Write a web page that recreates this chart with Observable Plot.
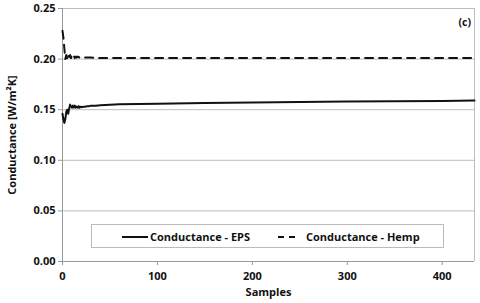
<!DOCTYPE html>
<html><head><meta charset="utf-8">
<script src="https://cdn.jsdelivr.net/npm/d3@7"></script>
<script src="https://cdn.jsdelivr.net/npm/@observablehq/plot@0.6"></script>
<style>
body{margin:0;background:#fff;}
#wrap{position:relative;width:480px;height:303px;font-family:"Open Sans",sans-serif;font-weight:bold;}
#legend{position:absolute;left:91px;top:224px;width:353px;height:24px;border:1px solid #bbb;background:#fff;box-sizing:border-box;font-size:11px;color:#111;}
#legend .item{position:absolute;top:4px;display:flex;align-items:center;}
#tag{position:absolute;right:9px;top:15px;font-size:10.5px;color:#111;}
</style></head>
<body><div id="wrap"><div id="chart"></div>
<div id="legend"></div>
<div id="tag">(c)</div></div>
<script>
const epsX = [0,1,2,3,4,5,6,7,8,9,10,11,12,13,14,15,16,17,18,19,20,22,24,26,28,30,35,40,50,60,80,100,150,200,250,300,350,400,434];
const epsY = [0.146,0.140,0.137,0.141,0.148,0.150,0.146,0.151,0.155,0.153,0.152,0.154,0.152,0.154,0.152,0.153,0.152,0.1535,0.152,0.153,0.1525,0.153,0.153,0.1535,0.1535,0.154,0.154,0.1545,0.155,0.1553,0.1557,0.156,0.1565,0.157,0.1577,0.158,0.1583,0.1587,0.159];
const hempX = [0,1,2,3,4,5,6,7,8,9,10,11,12,13,14,15,16,18,20,22,25,30,40,60,100,200,300,400,434];
const hempY = [0.228,0.221,0.210,0.200,0.204,0.201,0.205,0.202,0.204,0.201,0.204,0.202,0.203,0.201,0.2025,0.2015,0.2025,0.2015,0.202,0.2015,0.2015,0.2015,0.201,0.201,0.201,0.201,0.201,0.201,0.201];
const xTicks = [0,100,200,300,400];
const yTicks = [0,0.05,0.10,0.15,0.20,0.25];
const seriesNames = ["Conductance - EPS","Conductance - Hemp"];

const eps = epsX.map((x,i)=>({x, y:epsY[i]}));
const hemp = hempX.map((x,i)=>({x, y:hempY[i]}));

const font = '"Open Sans",sans-serif';
const chart = Plot.plot({
  width:480, height:303,
  marginLeft:62, marginRight:6, marginTop:8, marginBottom:42,
  style:{fontFamily:font, fontWeight:"bold", fontSize:"11px", color:"#111", background:"#fff"},
  x:{domain:[0,434]},
  y:{domain:[0,0.25]},
  marks:[
    Plot.gridY(yTicks,{stroke:"#bdbdbd", strokeOpacity:1, strokeWidth:1}),
    Plot.ruleX([434],{stroke:"#bdbdbd", strokeWidth:1}),
    Plot.ruleX([0],{stroke:"#999", strokeWidth:1}),
    Plot.ruleY([0],{stroke:"#999", strokeWidth:1}),
    Plot.axisX({ticks:xTicks, tickSize:4, tickPadding:7, stroke:"#999", label:"Samples", labelAnchor:"center", labelArrow:"none", labelOffset:34}),
    Plot.axisY({ticks:yTicks, tickSize:4, tickPadding:3, stroke:"#999", tickFormat:d3.format(".2f"), label:"Conductance [W/m²K]", labelAnchor:"center", labelArrow:"none", labelOffset:54}),
    Plot.line(eps,{x:"x", y:"y", stroke:"#111", strokeWidth:2}),
    Plot.line(hemp,{x:"x", y:"y", stroke:"#111", strokeWidth:2, strokeDasharray:"8,6"})
  ]
});
document.getElementById("chart").appendChild(chart);

const lg = document.getElementById("legend");
lg.innerHTML = `<div class="item" style="left:30px"><svg width="26" height="10"><line x1="0" y1="5" x2="26" y2="5" stroke="#111" stroke-width="2"/></svg><span style="margin-left:2px">${seriesNames[0]}</span></div>
<div class="item" style="left:186px"><svg width="20" height="10"><line x1="0" y1="5" x2="20" y2="5" stroke="#111" stroke-width="2" stroke-dasharray="6,5"/></svg><span style="margin-left:8px">${seriesNames[1]}</span></div>`;
</script></body></html>
